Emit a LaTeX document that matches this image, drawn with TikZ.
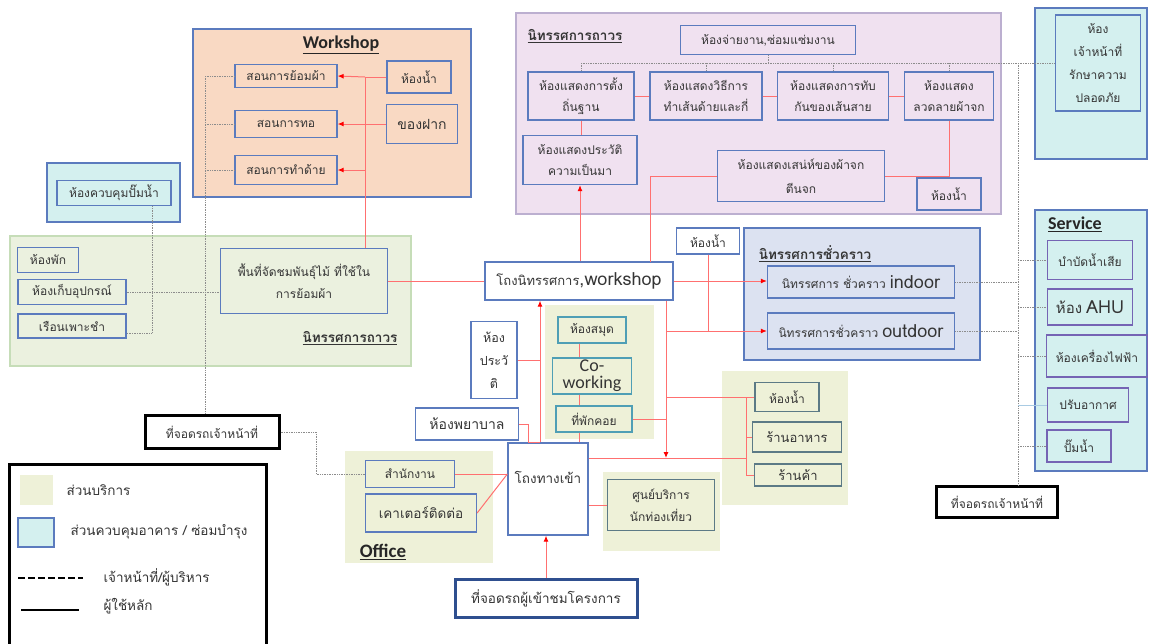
\documentclass[tikz,border=0pt]{standalone}
\usepackage{fontspec}
\setmainfont{Carlito}
\newfontfamily\thai[Script=Thai]{Loma}
\usetikzlibrary{arrows.meta,calc}
\definecolor{bb}{HTML}{5B7BBE}
\definecolor{orA}{HTML}{F9D9C3}
\definecolor{puA}{HTML}{F0E1F0}
\definecolor{puB}{HTML}{BCAFD0}
\definecolor{grA}{HTML}{EBF1DF}
\definecolor{grB}{HTML}{C6DDB8}
\definecolor{olA}{HTML}{EEF1D8}
\definecolor{cyA}{HTML}{D4F0EF}
\definecolor{blA}{HTML}{DCE2F1}
\definecolor{rl}{HTML}{FF7070}
\definecolor{tx}{HTML}{353535}
\definecolor{dg}{HTML}{8C8C8C}
\definecolor{tl}{HTML}{4F9FB5}
\definecolor{sv}{HTML}{7564B4}
\definecolor{gt}{HTML}{5C7A86}
\definecolor{dkb}{HTML}{2F4F8F}
\definecolor{lbl}{HTML}{A9CBE3}
\tikzset{
  sz/.style 2 args={minimum width=#1pt, minimum height=#2pt},
  box/.style={draw=bb, line width=1.3pt, align=center, inner sep=1pt, text=tx,
              font=\thai\fontsize{12}{16}\selectfont},
  wbox/.style={box, fill=white},
  thk/.style={box, fill=white, draw=black, line width=3pt},
  rd/.style={draw=rl, line width=1pt},
  ra/.style={rd, -{Latex[length=6pt,width=5pt,color=red]}},
  ds/.style={draw=dg, line width=0.7pt, densely dotted},
  ttl/.style={font=\bfseries\fontsize{18}{20}\selectfont, text=black!85},
  tttl/.style={font=\thai\bfseries\fontsize{13.5}{16}\selectfont, text=tx},
  lg/.style={anchor=west, font=\thai\fontsize{13.5}{16}\selectfont, text=tx},
}
\begin{document}
\begin{tikzpicture}[x=1pt,y=-1pt]
\useasboundingbox (0,0) rectangle (1152,643);
\fill[white] (0,0) rectangle (1152,643);

% ---------- areas ----------
\filldraw[fill=orA, draw=bb, line width=1.2pt] (193,29) rectangle (471,197);
\filldraw[fill=cyA, draw=bb, line width=1.5pt] (47,163) rectangle (180,222);
\filldraw[fill=grA, draw=grB, line width=1.2pt] (10,236) rectangle (411,366);
\filldraw[fill=puA, draw=puB, line width=1.2pt] (516,13) rectangle (1001,214);
\filldraw[fill=cyA, draw=bb, line width=1.5pt] (1035,8) rectangle (1147,159);
\filldraw[fill=blA, draw=bb, line width=1.5pt] (744,228) rectangle (980,360);
\fill[olA] (545,305) rectangle (654,439);
\fill[olA] (345,451) rectangle (493,563);
\fill[olA] (603,472) rectangle (720,551);
\fill[olA] (722,371) rectangle (848,505);
\filldraw[fill=cyA, draw=bb, line width=1.5pt] (1035,210) rectangle (1147,471);

% ---------- titles ----------
\node[ttl] (tWork) at (341,45) {\underline{Workshop}};
\node[tttl] (tPerm1) at (575,36) {\underline{นิทรรศการถาวร}};
\node[tttl] (tPerm2) at (350,338) {\underline{นิทรรศการถาวร}};
\node[tttl] (tTemp) at (815,254) {\underline{นิทรรศการชั่วคราว}};
\node[ttl] (tServ) at (1075,224) {\underline{Service}};
\node[ttl, font=\bfseries\fontsize{19}{20}\selectfont] (tOff) at (383,552) {\underline{Office}};

% ---------- workshop ----------
\node[box, sz={102}{23}] (dye) at (286,76) {สอนการย้อมผ้า};
\node[box, sz={102}{27}] (weave) at (286,124) {สอนการทอ};
\node[box, sz={102}{29}] (thread) at (286,170) {สอนการทำด้าย};
\node[box, sz={64}{32}] (wsWC) at (419,77) {ห้องน้ำ};
\node[box, sz={71}{39}, font=\thai\fontsize{14}{16}\selectfont] (souv) at (422,124) {ของฝาก};

% ---------- pump / green ----------
\node[box, sz={114}{25}] (pump) at (114,193) {ห้องควบคุมปั๊มน้ำ};
\node[box, sz={61}{25}] (rest) at (48,260) {ห้องพัก};
\node[box, sz={108}{25}] (store) at (72,292) {ห้องเก็บอุปกรณ์};
\node[box, sz={108}{24}] (nursery) at (72,326) {เรือนเพาะชำ};
\node[box, sz={167}{65}, font=\thai\fontsize{12}{22}\selectfont] (plants) at (304,281) {พื้นที่จัดชมพันธุ์ไม้ ที่ใช้ใน\\การย้อมผ้า};

% ---------- purple ----------
\node[box, sz={175}{29}] (dispatch) at (768,40) {ห้องจ่ายงาน,ซ่อมแซ่มงาน};
\node[box, sz={106}{48}, font=\thai\fontsize{12}{21}\selectfont] (settle) at (581,96) {ห้องแสดงการตั้ง\\ถิ่นฐาน};
\node[box, sz={112}{48}, font=\thai\fontsize{12}{21}\selectfont] (method) at (706,96) {ห้องแสดงวิธีการ\\ทำเส้นด้ายและกี่};
\node[box, sz={111}{48}, font=\thai\fontsize{12}{21}\selectfont] (overlap) at (833,96) {ห้องแสดงการทับ\\กันของเส้นสาย};
\node[box, sz={89}{48}, font=\thai\fontsize{12}{21}\selectfont] (pattern) at (949,96) {ห้องแสดง\\ลวดลายผ้าจก};
\node[box, sz={114}{49}, font=\thai\fontsize{12}{21}\selectfont] (history) at (580,160) {ห้องแสดงประวัติ\\ความเป็นมา};
\node[box, sz={167}{51}, font=\thai\fontsize{12}{24}\selectfont] (charm) at (801,176) {ห้องแสดงเสน่ห์ของผ้าจก\\ตีนจก};
\node[box, sz={64}{32}] (wcP) at (949,194) {ห้องน้ำ};

% ---------- security ----------
\node[box, sz={85}{96}, font=\thai\fontsize{12}{23}\selectfont] (security) at (1098,63) {ห้อง\\เจ้าหน้าที่\\รักษาความ\\ปลอดภัย};

% ---------- centre ----------
\node[wbox, sz={188}{38}] (hall) at (579,281) {{\thai\fontsize{13}{16}\selectfont โถงนิทรรศการ}{\fontsize{18}{20}\selectfont,workshop}};
\node[wbox, sz={63}{26}] (wcH) at (708,241) {ห้องน้ำ};
\node[box, sz={187}{32}] (indoor) at (861,282) {{\thai นิทรรศการ ชั่วคราว} {\fontsize{18}{20}\selectfont indoor}};
\node[box, sz={187}{36}] (outdoor) at (861,331) {{\thai นิทรรศการชั่วคราว} {\fontsize{18}{20}\selectfont outdoor}};

\node[box, draw=tl, sz={68}{26}] (library) at (592,330) {ห้องสมุด};
\node[box, draw=tl, sz={79}{36}, inner sep=0pt, font=\fontsize{18}{17}\selectfont] (cowork) at (592,376) {Co-\\working};
\node[box, draw=tl, sz={76}{26}] (wait) at (594,419) {ที่พักคอย};

\node[wbox, sz={46}{77}, font=\thai\fontsize{12.5}{23}\selectfont] (hist2) at (494,360) {ห้อง\\ประวั\\ติ};
\node[wbox, sz={103}{32}, font=\thai\fontsize{14}{16}\selectfont] (nurse) at (467,424) {ห้องพยาบาล};
\node[wbox, sz={80}{92}, font=\thai\fontsize{13.5}{16}\selectfont] (entry) at (548,489) {โถงทางเข้า\\[8pt]};

\node[box, sz={89}{27}] (officeA) at (410,474) {สำนักงาน};
\node[box, sz={111}{38}, font=\thai\fontsize{13.5}{16}\selectfont] (counter) at (421,513) {เคาเตอร์ติดต่อ};
\node[box, draw=gt, sz={107}{51}, font=\thai\fontsize{12}{22}\selectfont] (tourist) at (661,505) {ศูนย์บริการ\\นักท่องเที่ยว};

\node[thk, draw=dkb, sz={182}{38}, font=\thai\fontsize{13.5}{16}\selectfont] (parkV) at (546,598) {ที่จอดรถผู้เข้าชมโครงการ};
\node[thk, sz={134}{33}] (parkS) at (212,432) {ที่จอดรถเจ้าหน้าที่};
\node[thk, sz={121}{31}] (parkR) at (997,502) {ที่จอดรถเจ้าหน้าที่};

\node[box, draw=gt, sz={64}{29}] (wcS) at (787,397) {ห้องน้ำ};
\node[box, draw=gt, sz={89}{30}, font=\thai\fontsize{13}{16}\selectfont] (food) at (797,437) {ร้านอาหาร};
\node[box, draw=gt, sz={87}{22}, font=\thai\fontsize{13}{16}\selectfont] (shop) at (798,475) {ร้านค้า};

% ---------- service ----------
\node[box, draw=sv, sz={85}{39}] (s1) at (1090,260) {บำบัดน้ำเสีย};
\node[box, draw=sv, sz={85}{36}] (s2) at (1090,307) {{\thai\fontsize{15}{16}\selectfont ห้อง} {\fontsize{18}{20}\selectfont AHU}};
\node[box, draw=sv, sz={101}{42}] (s3) at (1097,356) {ห้องเครื่องไฟฟ้า};
\node[box, draw=sv, sz={81}{34}] (s4) at (1088,405) {ปรับอากาศ};
\node[box, draw=sv, sz={64}{32}] (s5) at (1079,446) {ปั๊มน้ำ};

% ---------- coordinates ----------
\coordinate (wj) at (365,77);
\coordinate (dl) at (205,76);
\coordinate (pj) at (152,333);
\coordinate (dj) at (768,63);
\coordinate (cj) at (650,262);
\coordinate (vj) at (666,331);
\coordinate (ej) at (666,458);
\coordinate (sj) at (746,397);
\coordinate (cw) at (579,0);
\coordinate (aj) at (540,0);
\coordinate (oj) at (316,474);
\coordinate (rj) at (1018,63);

% ---------- red connectors ----------
\draw[rd] (wsWC.west) -- (wj);
\draw[ra] (wj) -- (dye.east);
\draw[rd] (wj) -- (wj |- plants.north);
\draw[ra] (souv.west) -- (weave.east);
\draw[ra] (wj |- thread.east) -- (thread.east);
\draw[rd] (plants.east) -- (plants.east -| hall.west);

\draw[rd] (settle.east) -- (method.west);
\draw[rd] (method.east) -- (overlap.west);
\draw[rd] (overlap.east) -- (pattern.west);
\draw[rd] (settle.south) -- (settle.south |- history.north);
\draw[rd] (pattern.south) -- (wcP.north);
\draw[rd] (charm.east) -- (charm.east -| pattern.south);
\draw[rd] (charm.west) -| (cj);
\draw[ra] (history.south |- hall.north) -- (history.south);

\draw[ra] (hall.east) -- (hall.east -| indoor.west);
\draw[rd] (wcH.south) -- (wcH.south |- vj);
\draw[ra] (vj) -- (vj -| outdoor.west);
\draw[ra] (hall.south -| ej) -- (ej);
\draw[rd] (ej |- sj) -- (wcS.west);
\draw[rd] (sj) -- (sj |- shop.west) -- (shop.west);
\draw[rd] (sj |- food.west) -- (food.west);
\draw[rd] (entry.east |- ej) -- (sj |- ej);
\draw[rd] (wait.east) -- (wait.east -| ej);

\draw[rd] (cw |- library.south) -- (cw |- cowork.north);
\draw[rd] (cw |- cowork.south) -- (cw |- wait.north);
\draw[rd] (cw |- wait.south) -- (cw |- entry.north);
\draw[rd] (hist2.east) -- (hist2.east -| aj);
\draw[ra] (aj |- entry.north) -- (aj |- hall.south);
\draw[rd] (nurse.east) -- ++(9,0) |- (aj |- entry.north);

\draw[rd] (officeA.east) -- (entry.west |- officeA.east);
\draw[rd] (counter.east) -- (entry.west |- officeA.east);
\draw[rd] (entry.east |- tourist.west) -- (tourist.west);
\draw[ra] (parkV.north) -- (parkV.north |- entry.south);

% ---------- dotted (staff) connectors ----------
\draw[ds] (dl) -- (dl |- parkS.north);
\draw[ds] (dl) -- (dye.west);
\draw[ds] (dl |- weave.west) -- (weave.west);
\draw[ds] (dl |- thread.west) -- (thread.west);
\draw[ds] (pump.south -| pj) -- (pj) -- (pj -| nursery.east);
\draw[ds] (store.east) -- (store.east -| plants.west);
\draw[ds] (dispatch.south) -- (dj);
\draw[ds] (settle.north |- dj) -- (dj -| security.west);
\draw[ds] (settle.north |- dj) -- (settle.north);
\draw[ds] (method.north |- dj) -- (method.north);
\draw[ds] (overlap.north |- dj) -- (overlap.north);
\draw[ds] (pattern.north |- dj) -- (pattern.north);
\draw[ds] (rj) -- (rj |- parkR.north);
\draw[ds] (indoor.east) -- (indoor.east -| rj);
\draw[ds] (outdoor.east) -- (outdoor.east -| rj);
\draw[ds] (rj |- s1.west) -- (s1.west);
\draw[ds] (rj |- s2.west) -- (s2.west);
\draw[ds] (rj |- s3.west) -- (s3.west);
\draw[draw=lbl, line width=0.7pt] (rj |- s4.west) -- (s4.west);
\draw[ds] (rj |- s5.west) -- (s5.west);
\draw[ds] (parkS.east) -| (oj) -- (officeA.west);

% ---------- legend ----------
\draw[black, line width=3pt] (9,464) rectangle (266,652);
\fill[olA] (20,475) rectangle (53,505);
\node[lg] (l1) at (63,490) {ส่วนบริการ};
\filldraw[fill=cyA, draw=bb, line width=1.3pt] (18,518) rectangle (54,547);
\node[lg] (l2) at (67,532) {ส่วนควบคุมอาคาร / ซ่อมบำรุง};
\coordinate (la) at (18,578);
\coordinate (lb) at (83,578);
\draw[black, line width=2.5pt, dash pattern=on 7pt off 3pt] (la) -- (lb);
\node[lg] (l3) at (100,577) {เจ้าหน้าที่/ผู้บริหาร};
\coordinate (lc) at (21,610);
\coordinate (ld) at (79,610);
\draw[black, line width=2.5pt] (lc) -- (ld);
\node[lg] (l4) at (100,606) {ผู้ใช้หลัก};
\end{tikzpicture}
\end{document}
